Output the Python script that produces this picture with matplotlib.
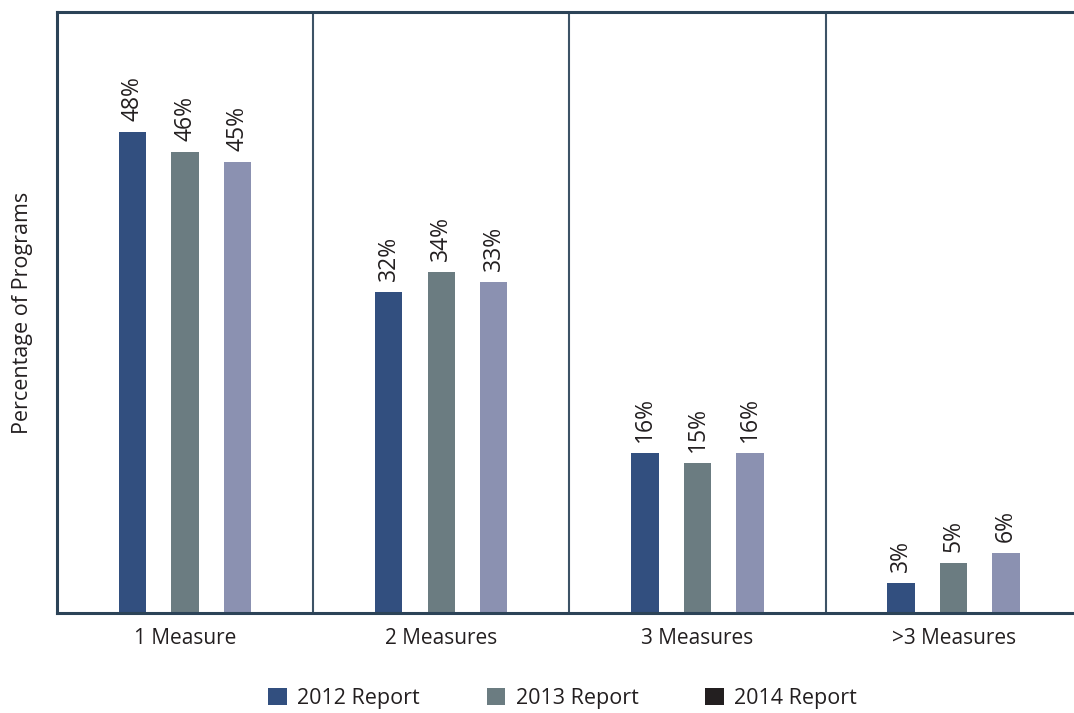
import matplotlib
matplotlib.use("Agg")
import matplotlib.pyplot as plt
from matplotlib.patches import Patch
import numpy as np

plt.rcParams['font.family'] = ['Open Sans', 'DejaVu Sans']

categories = ["1 Measure", "2 Measures", "3 Measures", ">3 Measures"]
series_names = ["2012 Report", "2013 Report", "2014 Report"]
values_2012 = [48, 32, 16, 3]
values_2013 = [46, 34, 15, 5]
values_2014 = [45, 33, 16, 6]
bar_colors = ["#324f7f", "#6b7c81", "#8b91b1"]
legend_colors = ["#324f7f", "#6b7c81", "#231f20"]

fig = plt.figure(figsize=(10.74, 7.13), dpi=100)
ax = fig.add_axes([57/1074, 1 - 613/713, 1 - 57/1074, (613 - 12)/713])

x = np.arange(len(categories))
width = 0.107
offsets = [-0.205, 0.0, 0.205]
series = [values_2012, values_2013, values_2014]
for vals, off, col in zip(series, offsets, bar_colors):
    bars = ax.bar(x + off, vals, width=width, color=col, edgecolor='none')
    for b, v in zip(bars, vals):
        ax.annotate(f"{v}%", (b.get_x() + b.get_width()/2, v), xytext=(0, 8),
                    textcoords='offset points', rotation=90, ha='center', va='bottom',
                    fontsize=16.5, color='#231f20')

ax.set_xlim(-0.5, 3.47)
ax.set_ylim(0, 60)
for xi in [0.5, 1.5, 2.5]:
    ax.axvline(xi, color='#3d5366', lw=1.5)

spine_col = '#2c4357'
for s in ['left', 'top', 'bottom']:
    ax.spines[s].set_color(spine_col)
    ax.spines[s].set_linewidth(2.2)
ax.spines['right'].set_visible(False)

ax.set_yticks([])
ax.set_xticks(x)
ax.set_xticklabels(categories, fontsize=15, color='#231f20')
ax.tick_params(axis='x', length=0, pad=11)
ax.set_ylabel("Percentage of Programs", fontsize=15.5, color='#231f20', labelpad=17)

handles = [Patch(facecolor=c, edgecolor='none') for c in legend_colors]
fig.legend(handles, series_names, loc='lower center', bbox_to_anchor=(0.524, -0.022),
           ncol=3, frameon=False, fontsize=15.5, handlelength=0.85, handleheight=0.85,
           columnspacing=3.1, handletextpad=0.5, labelcolor='#231f20')

fig.savefig("out.png", dpi=100)
